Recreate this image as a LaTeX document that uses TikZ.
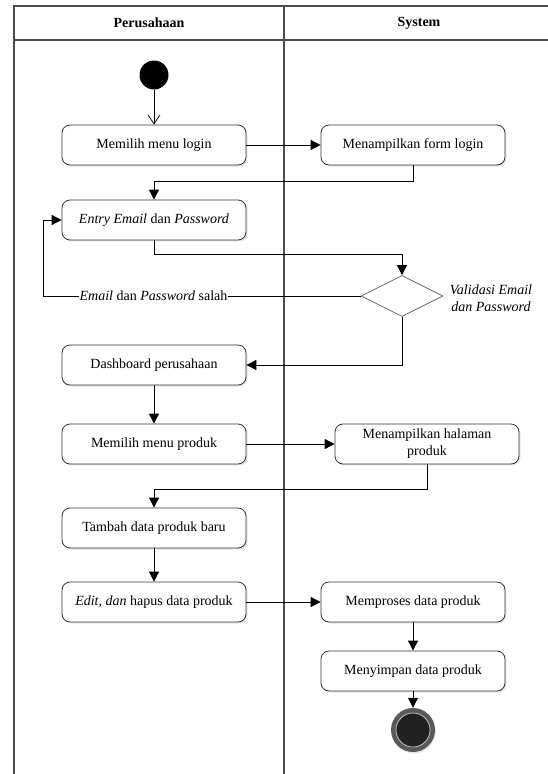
\documentclass[tikz,border=0pt]{standalone}
\usepackage{fontspec}
\setmainfont{Liberation Serif}
\usetikzlibrary{arrows.meta,shapes.geometric,shadows}

\tikzset{basic/.style={draw=black!80,fill=white,line width=0.8pt,
                       text badly centered,font=\fontsize{14}{17}\selectfont}}
\tikzset{activity/.style={basic,rectangle,rounded corners=8pt,
                          minimum width=184pt,minimum height=40pt,
                          drop shadow={shadow xshift=1.5pt,shadow yshift=-1.5pt,opacity=0.2}}}
\tikzset{decision/.style={basic,diamond,draw=black!60,minimum width=82pt,
                          minimum height=41pt,inner sep=0pt}}
\tikzset{startnode/.style={circle,fill=black,minimum size=29pt,inner sep=0pt}}
\tikzset{endnode/.style={circle,fill=black!65,minimum size=44pt,inner sep=0pt,
                         drop shadow={shadow xshift=1pt,shadow yshift=-1.5pt,opacity=0.2}}}
\tikzset{header/.style={font=\bfseries\fontsize{14}{17}\selectfont}}
\tikzset{note/.style={font=\itshape\fontsize{14}{17}\selectfont,align=center}}
\tikzset{lane/.style={draw=black!70,line width=1.3pt}}
\tikzset{arr/.style={-{Triangle[length=10pt,width=10pt]},line width=0.8pt}}

\begin{document}
\begin{tikzpicture}[x=1pt,y=-1pt]
    \clip (0,0) rectangle (548,774);
    % Swimlanes
    \draw[lane] (14,790) -- (14,6) -- (570,6);
    \draw[lane] (14,40) -- (570,40);
    \draw[lane] (284,6) -- (284,790);
    \node[header] (perusahaan) at (149,23) {Perusahaan};
    \node[header] (system) at (419,23) {System};
    % Perusahaan
    \node[startnode] (start) at (154,75) {};
    \node[activity] (login) at (154,145) {Memilih menu login};
    \node[activity] (entry) at (154,220) {\textit{Entry Email} dan \textit{Password}};
    \node[activity] (dash) at (154,365) {Dashboard perusahaan};
    \node[activity] (menu) at (154,444) {Memilih menu produk};
    \node[activity] (add) at (154,528) {Tambah data produk baru};
    \node[activity] (edit) at (154,602) {\textit{Edit, dan} hapus data produk};
    % System
    \node[activity] (form) at (413,145) {Menampilkan form login};
    \node[decision] (valid) at (402,296) {};
    \node[note] (validlbl) at (491,298) {Validasi Email\\dan Password};
    \node[activity,align=center] (page) at (427,444) {Menampilkan halaman\\produk};
    \node[activity] (process) at (413,602) {Memproses data produk};
    \node[activity] (save) at (413,671) {Menyimpan data produk};
    \node[endnode] (end) at (413,730) {};
    \node[circle,fill=black!87,draw=black!25,line width=0.8pt,
          minimum size=34pt,inner sep=0pt] (endin) at (end) {};
    \coordinate (loop) at (43,296);
    % Flows
    \draw[line width=0.8pt,-{Straight Barb[length=9pt,width=12pt]}] (start) -- (login);
    \draw[arr] (login) -- (form);
    \draw[arr] (form.south) -- ++(0,16) -| (entry.north);
    \draw[arr] (entry.south) -- ++(0,14) -| (valid.north);
    \draw[arr] (valid.west) -- node[pos=0.652,fill=white,inner sep=1pt,
        font=\fontsize{14}{17}\selectfont] (wrong) {\textit{Email} dan \textit{Password} salah}
        (loop) |- (entry.west);
    \draw[arr] (valid.south) |- (dash.east);
    \draw[arr] (dash) -- (menu);
    \draw[arr] (menu) -- (page);
    \draw[arr] (page.south) -- ++(0,25) -| (add.north);
    \draw[arr] (add) -- (edit);
    \draw[arr] (edit) -- (process);
    \draw[arr] (process) -- (save);
    \draw[arr] (save) -- (end);
\end{tikzpicture}
\end{document}
